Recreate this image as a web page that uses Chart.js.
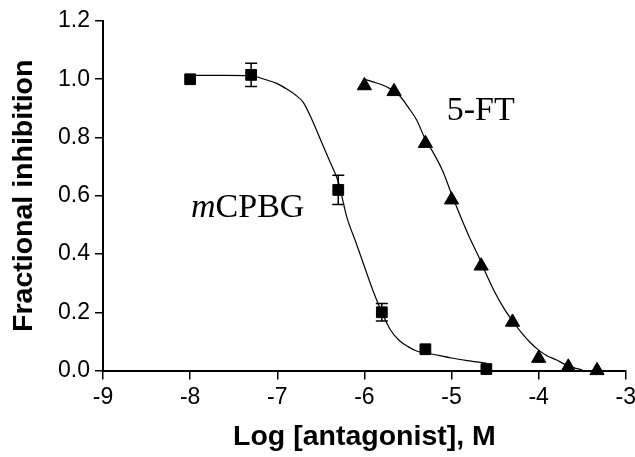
<!DOCTYPE html>
<html>
<head>
<meta charset="utf-8">
<script src="https://cdn.jsdelivr.net/npm/chart.js@4.4.1/dist/chart.umd.min.js"></script>
<style>
  html, body { margin: 0; padding: 0; background: #ffffff; }
  #wrap { width: 635px; height: 457px; }
</style>
</head>
<body>
<div id="wrap"><canvas id="chart" width="635" height="457"></canvas></div>
<script>
// Axis ticks
const xTickValues = [-9, -8, -7, -6, -5, -4, -3];
const yTickValues = [0, 0.2, 0.4, 0.6, 0.8, 1.0, 1.2];

// mCPBG: measured points (log M) with SEM
const mcpbgLogConc   = [-8.0, -7.3, -6.3, -5.8, -5.3, -4.6];
const mcpbgInhibition = [1.0, 1.015, 0.62, 0.20, 0.073, 0.005];
const mcpbgSem       = [0, 0.04, 0.05, 0.03, 0, 0];

// 5-FT: measured points (log M)
const ftLogConc    = [-6.0, -5.66, -5.3, -5.0, -4.66, -4.3, -4.0, -3.66, -3.33];
const ftInhibition = [0.978, 0.958, 0.78, 0.586, 0.359, 0.166, 0.042, 0.012, 0.0];

// Fitted concentration-inhibition curves
const mcpbgFitLogConc = [-8.0, -7.6, -7.3, -7.15, -7.0, -6.9, -6.8, -6.7, -6.6, -6.5, -6.4, -6.3, -6.2, -6.1, -6.0, -5.9, -5.8, -5.7, -5.6, -5.5, -5.4, -5.2, -5.0, -4.8, -4.6];
const mcpbgFitValues  = [1.013, 1.013, 1.012, 1.0, 0.985, 0.968, 0.948, 0.92, 0.86, 0.79, 0.72, 0.648, 0.525, 0.442, 0.357, 0.273, 0.2, 0.139, 0.103, 0.082, 0.067, 0.055, 0.043, 0.033, 0.025];
const ftFitLogConc = [-6.0, -5.9, -5.8, -5.7, -5.6, -5.5, -5.4, -5.3, -5.2, -5.1, -5.0, -4.9, -4.8, -4.7, -4.6, -4.5, -4.4, -4.3, -4.2, -4.1, -4.0, -3.9, -3.8, -3.7, -3.6, -3.5];
const ftFitValues  = [1.0, 0.991, 0.981, 0.967, 0.945, 0.905, 0.86, 0.793, 0.743, 0.684, 0.606, 0.531, 0.461, 0.398, 0.33, 0.267, 0.214, 0.17, 0.131, 0.097, 0.07, 0.05, 0.037, 0.021, 0.01, 0.002];

// Curve labels
const seriesNames = ['mCPBG', '5-FT'];

const toPoints = (xs, ys) => xs.map((x, i) => ({ x: x, y: ys[i] }));

// Text labels next to the curves, anchored in data space (left edge, baseline)
const curveLabels = [
  { parts: [{ text: 'm', italic: true }, { text: 'CPBG', italic: false }], x: -7.99, y: 0.527 },
  { parts: [{ text: '5-FT', italic: false }], x: -5.055, y: 0.861 }
];

const errorBarPlugin = {
  id: 'errorBars',
  afterDatasetsDraw(chart) {
    const xs = chart.scales.x, ys = chart.scales.y, ctx = chart.ctx;
    ctx.save();
    ctx.strokeStyle = '#000';
    ctx.lineWidth = 1.5;
    mcpbgLogConc.forEach((lx, i) => {
      const e = mcpbgSem[i];
      if (!e) return;
      const px = xs.getPixelForValue(lx);
      const top = ys.getPixelForValue(mcpbgInhibition[i] + e);
      const bot = ys.getPixelForValue(mcpbgInhibition[i] - e);
      ctx.beginPath();
      ctx.moveTo(px, top); ctx.lineTo(px, bot);
      ctx.moveTo(px - 6, top); ctx.lineTo(px + 6, top);
      ctx.moveTo(px - 6, bot); ctx.lineTo(px + 6, bot);
      ctx.stroke();
    });
    ctx.restore();
  }
};

const curveLabelPlugin = {
  id: 'curveLabels',
  afterDraw(chart) {
    const xs = chart.scales.x, ys = chart.scales.y, ctx = chart.ctx;
    ctx.save();
    ctx.fillStyle = '#000';
    ctx.textBaseline = 'alphabetic';
    ctx.textAlign = 'left';
    curveLabels.forEach(lbl => {
      let px = xs.getPixelForValue(lbl.x);
      const py = ys.getPixelForValue(lbl.y);
      lbl.parts.forEach(p => {
        ctx.font = (p.italic ? 'italic ' : '') + '34px "Liberation Serif", "Times New Roman", serif';
        ctx.fillText(p.text, px, py);
        px += ctx.measureText(p.text).width;
      });
    });
    ctx.restore();
  }
};

const tickFont = { family: '"Liberation Sans", Arial, sans-serif', size: 23 };
const titleFont = { family: '"Liberation Sans", Arial, sans-serif', size: 28.5, weight: 'bold', lineHeight: 1 };

new Chart(document.getElementById('chart'), {
  type: 'line',
  data: {
    datasets: [
      {
        label: seriesNames[0] + ' fit',
        data: toPoints(mcpbgFitLogConc, mcpbgFitValues),
        borderColor: '#000', borderWidth: 1.2, pointRadius: 0,
        cubicInterpolationMode: 'monotone', fill: false
      },
      {
        label: seriesNames[1] + ' fit',
        data: toPoints(ftFitLogConc, ftFitValues),
        borderColor: '#000', borderWidth: 1.2, pointRadius: 0,
        cubicInterpolationMode: 'monotone', fill: false
      },
      {
        label: seriesNames[0],
        data: toPoints(mcpbgLogConc, mcpbgInhibition),
        showLine: false, pointStyle: 'rect', pointRadius: 7.6,
        backgroundColor: '#000', borderColor: '#000', borderWidth: 1, clip: false
      },
      {
        label: seriesNames[1],
        data: toPoints(ftLogConc, ftInhibition),
        showLine: false, pointStyle: 'triangle', pointRadius: 8.2,
        backgroundColor: '#000', borderColor: '#000', borderWidth: 1, clip: false
      }
    ]
  },
  options: {
    responsive: false,
    animation: false,
    devicePixelRatio: 1,
    layout: { padding: { left: 0, right: 8, top: 21, bottom: 0 } },
    plugins: { legend: { display: false }, tooltip: { enabled: false } },
    scales: {
      x: {
        type: 'linear', min: -9, max: -3,
        afterBuildTicks(s) { s.ticks = xTickValues.map(v => ({ value: v })); },
        afterFit(s) { s.height = 86.5; s.paddingLeft = 0; s.paddingRight = 0; },
        ticks: { font: tickFont, color: '#000', padding: 4, maxRotation: 0, autoSkip: false },
        grid: { drawOnChartArea: false, drawTicks: true, tickLength: 9, color: '#000', lineWidth: 1.5 },
        border: { display: true, color: '#000', width: 2 },
        title: { display: true, text: 'Log [antagonist], M', font: titleFont, color: '#000', padding: { top: 0, bottom: 6 } }
      },
      y: {
        type: 'linear', min: 0, max: 1.2,
        afterBuildTicks(s) { s.ticks = yTickValues.map(v => ({ value: v })); },
        afterFit(s) { s.width = 103; s.paddingTop = 0; s.paddingBottom = 0; },
        ticks: { font: tickFont, color: '#000', padding: 5, callback: v => Number(v).toFixed(1) },
        grid: { drawOnChartArea: false, drawTicks: true, tickLength: 8, color: '#000', lineWidth: 1.5 },
        border: { display: true, color: '#000', width: 2 },
        title: { display: true, text: 'Fractional inhibition', font: titleFont, color: '#000', padding: { top: 10, bottom: 0 } }
      }
    }
  },
  plugins: [errorBarPlugin, curveLabelPlugin]
});
</script>
</body>
</html>
